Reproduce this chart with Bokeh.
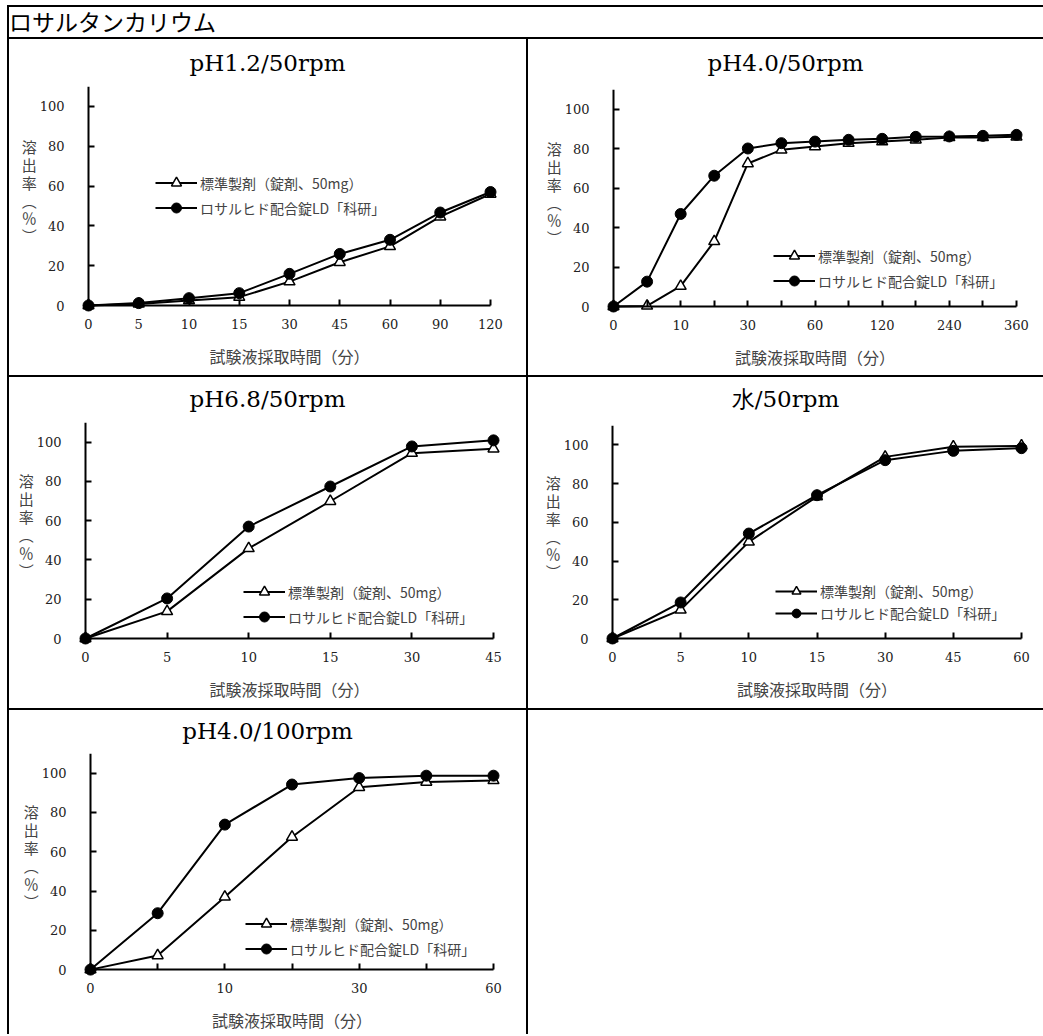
from bokeh.plotting import figure
from bokeh.models import Range1d, Legend, LegendItem, Div, LinearAxis
from bokeh.layouts import column, row
from bokeh.embed import file_html
from bokeh.resources import INLINE

# ---------------- data ----------------
page_title = "ロサルタンカリウム"
legend_std = "標準製剤（錠剤、50mg）"
legend_test = "ロサルヒド配合錠LD「科研」"
x_title = "試験液採取時間（分）"
y_title = "溶\n出\n率\n︵\n％\n︶\n\u3000"

chart_titles = ["pH1.2/50rpm", "pH4.0/50rpm", "pH6.8/50rpm", "水/50rpm", "pH4.0/100rpm"]

times_1 = ["0", "5", "10", "15", "30", "45", "60", "90", "120"]
labels_1 = ["0", "5", "10", "15", "30", "45", "60", "90", "120"]
std_1 = [0, 0.8, 2.5, 4.2, 12.0, 21.7, 29.7, 44.6, 56.0]
test_1 = [0, 1.2, 3.7, 6.2, 15.9, 25.9, 33.0, 46.7, 57.0]

times_2 = ["0", "5", "10", "15", "30", "45", "60", "90", "120", "180", "240", "300", "360"]
labels_2 = ["0", "", "10", "", "30", "", "60", "", "120", "", "240", "", "360"]
std_2 = [0, 0.3, 10.3, 33.0, 72.5, 79.4, 81.1, 82.8, 83.6, 84.5, 85.7, 85.7, 86.0]
test_2 = [0, 12.6, 46.9, 66.3, 80.1, 82.8, 83.6, 84.5, 85.0, 86.0, 86.2, 86.5, 87.0]

times_3 = ["0", "5", "10", "15", "30", "45"]
labels_3 = ["0", "5", "10", "15", "30", "45"]
std_3 = [0, 13.8, 45.9, 69.9, 94.4, 96.6]
test_3 = [0, 20.4, 57.0, 77.4, 97.8, 100.9]

times_4 = ["0", "5", "10", "15", "30", "45", "60"]
labels_4 = ["0", "5", "10", "15", "30", "45", "60"]
std_4 = [0, 14.8, 49.9, 73.3, 93.8, 99.0, 99.5]
test_4 = [0, 18.6, 54.2, 74.0, 92.1, 96.9, 98.3]

times_5 = ["0", "5", "10", "15", "30", "45", "60"]
labels_5 = ["0", "", "10", "", "30", "", "60"]
std_5 = [0, 7.2, 37.0, 67.5, 92.8, 95.5, 96.3]
test_5 = [0, 28.7, 73.8, 94.2, 97.5, 98.7, 98.7]

y_ticks = [0, 20, 40, 60, 80, 100]
Y_MAX = 110

# ---------------- styling / layout ----------------
PAD = 8
SERIF = "DejaVu Serif"
JP = "Noto Sans CJK JP"


def style_line_axis(ax, bounds, ticks):
    ax.fixed_location = 0
    ax.bounds = bounds
    ax.ticker = ticks
    ax.major_tick_in = 6
    ax.major_tick_out = 0
    ax.minor_tick_line_color = None
    ax.axis_line_width = 2
    ax.major_tick_line_width = 2
    ax.axis_line_color = "black"
    ax.major_tick_line_color = "black"
    ax.major_label_text_alpha = 0
    ax.major_label_text_font_size = "1px"
    ax.major_label_standoff = 0


def make_chart(title, times, labels, std, test, w, h, axbox, leg_xy, title_h, leg_row=25):
    axl, axt, axr, axb = axbox
    n = len(times)
    ppc = (axr - axl) / (n - 1)
    ppy = (axb - axt) / Y_MAX
    fh = h - title_h
    p = figure(width=w, height=fh,
               x_range=Range1d(-PAD / ppc, n - 1 + PAD / ppc),
               y_range=Range1d(-PAD / ppy, Y_MAX),
               min_border_left=axl - PAD, min_border_right=w - axr - PAD,
               min_border_top=axt - title_h, min_border_bottom=h - axb - PAD,
               output_backend="svg", toolbar_location=None,
               styles={"background-color": "white"})
    p.background_fill_color = "white"
    p.border_fill_color = "white"
    p.outline_line_color = None
    p.xgrid.visible = False
    p.ygrid.visible = False

    xs = list(range(n))
    # axis lines and ticks drawn at the data origin
    style_line_axis(p.xaxis[0], (0, n - 1), xs)
    style_line_axis(p.yaxis[0], (0, Y_MAX), y_ticks)

    # label-only axes in the side panels
    xl = LinearAxis(ticker=xs, axis_line_color=None, major_tick_line_color=None,
                    minor_tick_line_color=None, major_tick_in=0, major_tick_out=0,
                    major_label_overrides={i: lab for i, lab in enumerate(labels)},
                    major_label_standoff=5, major_label_text_font=SERIF,
                    major_label_text_font_size="13px", major_label_text_color="#222222",
                    axis_label=x_title, axis_label_text_font=JP,
                    axis_label_text_font_size="16px", axis_label_text_font_style="normal",
                    axis_label_standoff=12)
    p.add_layout(xl, "below")
    yl = LinearAxis(ticker=y_ticks, axis_line_color=None, major_tick_line_color=None,
                    minor_tick_line_color=None, major_tick_in=0, major_tick_out=0,
                    major_label_standoff=16, major_label_text_font=SERIF,
                    major_label_text_font_size="13px", major_label_text_color="#222222",
                    axis_label=y_title, axis_label_orientation="horizontal",
                    axis_label_text_font=JP, axis_label_text_font_size="15px",
                    axis_label_text_line_height=0.85,
                    axis_label_text_font_style="normal", axis_label_standoff=0)
    p.add_layout(yl, "left")

    l_std = p.line(xs, std, line_color="black", line_width=2)
    l_test = p.line(xs, test, line_color="black", line_width=2)
    s_std = p.scatter(xs, std, marker="triangle", size=11, fill_color="white",
                      line_color="black", line_width=1.5)
    s_test = p.scatter(xs, test, marker="circle", size=11, fill_color="black",
                       line_color="black")

    legend = Legend(items=[LegendItem(label=legend_std, renderers=[l_std, s_std]),
                           LegendItem(label=legend_test, renderers=[l_test, s_test])],
                    location=leg_xy, padding=0, margin=0, spacing=0,
                    glyph_width=42, glyph_height=leg_row, label_height=leg_row,
                    label_standoff=3, border_line_color=None,
                    background_fill_alpha=0,
                    label_text_font=JP, label_text_font_size="14px")
    p.add_layout(legend)

    head_div = Div(text=title, width=w, height=title_h, margin=0,
                   styles={"background-color": "white", "font-family": SERIF,
                           "font-size": "23px", "line-height": f"{title_h + 7}px",
                           "text-align": "center", "color": "black",
                           "overflow": "hidden"})
    return column(head_div, p, spacing=0, styles={"background-color": "white"})


c1 = make_chart(chart_titles[0], times_1, labels_1, std_1, test_1, 517, 336,
                (79, 47, 481, 266), (75, 93), 42)
c2 = make_chart(chart_titles[1], times_2, labels_2, std_2, test_2, 515, 336,
                (85, 50, 488, 267), (168, 21), 42)
c3 = make_chart(chart_titles[2], times_3, labels_3, std_3, test_3, 517, 331,
                (76, 45, 484, 261), (166, 17), 38)
c4 = make_chart(chart_titles[3], times_4, labels_4, std_4, test_4, 515, 331,
                (84, 48, 493, 261), (171, 22), 38, leg_row=22)
c5 = make_chart(chart_titles[4], times_5, labels_5, std_5, test_5, 517, 324,
                (81, 43, 484, 262), (163, 16), 36)

head = Div(text=page_title, width=1034, height=30, margin=0,
           styles={"background-color": "white", "font-family": JP,
                   "font-size": "23px", "line-height": "29px", "color": "black"})
blank = Div(text="", width=515, height=324, margin=0,
            styles={"background-color": "white"})

root = column(head,
              row(c1, c2, spacing=2),
              row(c3, c4, spacing=2),
              row(c5, blank, spacing=2),
              spacing=2,
              margin=(5, 0, 0, 7),
              styles={"background-color": "black", "padding-top": "2px",
                      "padding-left": "2px"})

open("out.html", "w").write(file_html(root, INLINE))
